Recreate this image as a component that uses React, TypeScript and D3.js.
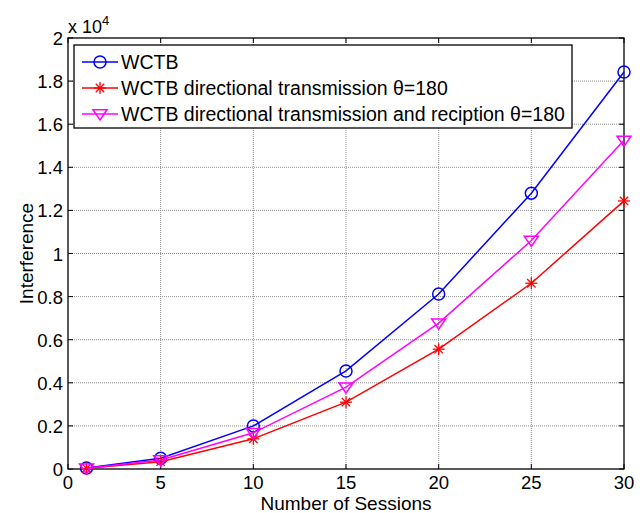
import React from "react";
import * as d3 from "d3";

const sessions = [1, 5, 10, 15, 20, 25, 30];
const wctb = [50, 500, 2000, 4550, 8120, 12800, 18420];
const wctbDirTx = [30, 340, 1400, 3100, 5560, 8620, 12440];
const wctbDirTxRx = [40, 420, 1680, 3800, 6770, 10600, 15250];
const xTicks = [0, 5, 10, 15, 20, 25, 30];
const yTicks = [0, 2000, 4000, 6000, 8000, 10000, 12000, 14000, 16000, 18000, 20000];
const yTickLabels = ["0", "0.2", "0.4", "0.6", "0.8", "1", "1.2", "1.4", "1.6", "1.8", "2"];
const seriesNames = [
  "WCTB",
  "WCTB directional transmission \u03b8=180",
  "WCTB directional transmission and reciption \u03b8=180",
];

const W = 640, H = 513;
const L = 68, R = 624, T = 38, B = 469;
const font = "'Liberation Sans', Arial, sans-serif";

function Marker({ type, x, y, color }: { type: string; x: number; y: number; color: string }) {
  if (type === "o") return <circle cx={x} cy={y} r={6} fill="none" stroke={color} strokeWidth={1.5} />;
  if (type === "*") {
    const s = 6;
    return (
      <g stroke={color} strokeWidth={1.3}>
        <line x1={x - s} y1={y} x2={x + s} y2={y} />
        <line x1={x} y1={y - s} x2={x} y2={y + s} />
        <line x1={x - s * 0.7} y1={y - s * 0.7} x2={x + s * 0.7} y2={y + s * 0.7} />
        <line x1={x - s * 0.7} y1={y + s * 0.7} x2={x + s * 0.7} y2={y - s * 0.7} />
      </g>
    );
  }
  const s = 7;
  return (
    <path d={`M${x - s},${y - s * 0.6}L${x + s},${y - s * 0.6}L${x},${y + s * 0.85}Z`} fill="none" stroke={color} strokeWidth={1.5} />
  );
}

export default function App() {
  const x = d3.scaleLinear().domain([0, 30]).range([L, R]);
  const y = d3.scaleLinear().domain([0, 20000]).range([B, T]);
  const line = d3.line<number>().x((_, i) => x(sessions[i])).y((d) => y(d));
  const series = [
    { vals: wctb, color: "#0000ff", m: "o" },
    { vals: wctbDirTx, color: "#ff0000", m: "*" },
    { vals: wctbDirTxRx, color: "#ff00ff", m: "v" },
  ];
  return (
    <svg width={W} height={H} style={{ position: "absolute", left: 0, top: 0, background: "#fff" }} fontFamily={font}>
      <rect x={0} y={0} width={W} height={H} fill="#fff" />
      {xTicks.slice(1, -1).map((t) => (
        <line key={"gx" + t} x1={x(t)} x2={x(t)} y1={T} y2={B} stroke="#909090" strokeWidth={1} strokeDasharray="1,1" />
      ))}
      {yTicks.slice(1, -1).map((t) => (
        <line key={"gy" + t} x1={L} x2={R} y1={y(t)} y2={y(t)} stroke="#909090" strokeWidth={1} strokeDasharray="1,1" />
      ))}
      {xTicks.map((t) => (
        <g key={"tx" + t} stroke="#000">
          <line x1={x(t)} x2={x(t)} y1={B} y2={B - 5} />
          <line x1={x(t)} x2={x(t)} y1={T} y2={T + 5} />
        </g>
      ))}
      {yTicks.map((t) => (
        <g key={"ty" + t} stroke="#000">
          <line x1={L} x2={L + 5} y1={y(t)} y2={y(t)} />
          <line x1={R} x2={R - 5} y1={y(t)} y2={y(t)} />
        </g>
      ))}
      <rect x={L} y={T} width={R - L} height={B - T} fill="none" stroke="#000" strokeWidth={1.3} />
      {xTicks.map((t) => (
        <text key={"lx" + t} x={x(t)} y={B + 20} textAnchor="middle" fontSize={18.5}>{t}</text>
      ))}
      {yTicks.map((t, i) => (
        <text key={"ly" + t} x={L - 5} y={y(t) + 7} textAnchor="end" fontSize={18.5}>{yTickLabels[i]}</text>
      ))}
      <text x={L} y={33} fontSize={18}>x 10<tspan fontSize={13} dy={-8}>4</tspan></text>
      <text x={(L + R) / 2} y={510} textAnchor="middle" fontSize={19}>Number of Sessions</text>
      <text transform={`translate(33,${(T + B) / 2}) rotate(-90)`} textAnchor="middle" fontSize={19}>Interference</text>
      {series.map((s, si) => (
        <g key={"s" + si}>
          <path d={line(s.vals) || ""} fill="none" stroke={s.color} strokeWidth={1.5} />
          {s.vals.map((v, i) => (
            <Marker key={i} type={s.m} x={x(sessions[i])} y={y(v)} color={s.color} />
          ))}
        </g>
      ))}
      <rect x={74} y={45} width={498} height={83} fill="#fff" stroke="#000" strokeWidth={1.3} />
      {series.map((s, i) => {
        const ly = 62 + i * 26;
        return (
          <g key={"lg" + i}>
            <line x1={82} x2={118} y1={ly} y2={ly} stroke={s.color} strokeWidth={1.5} />
            <Marker type={s.m} x={100} y={ly} color={s.color} />
            <text x={121} y={ly + 7} fontSize={19.5}>{seriesNames[i]}</text>
          </g>
        );
      })}
    </svg>
  );
}
